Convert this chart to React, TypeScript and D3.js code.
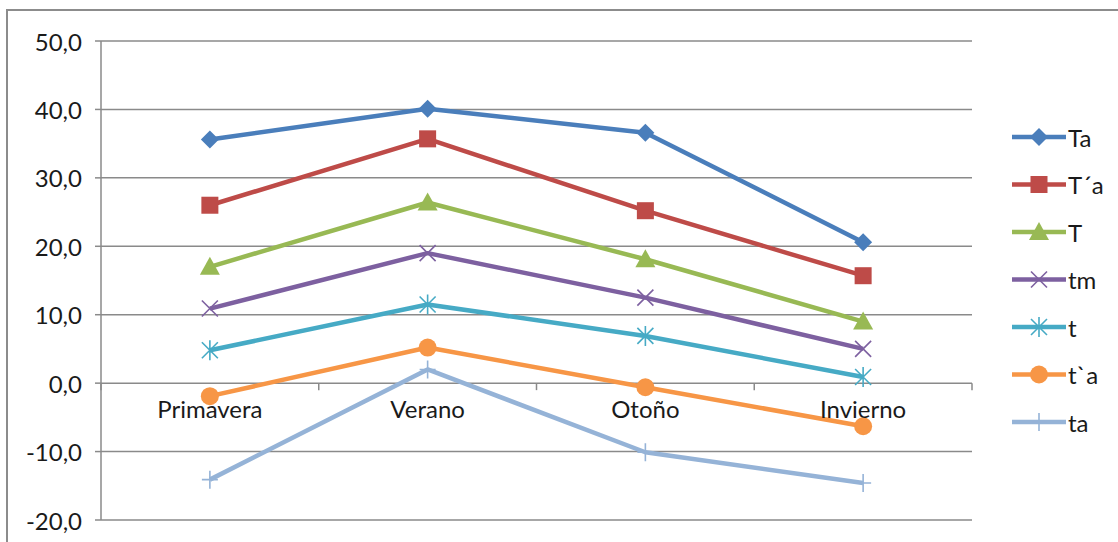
import React from "react";
import * as d3 from "d3";

// Seasons on the category axis
const seasons = ["Primavera", "Verano", "Otoño", "Invierno"];

// Series values per season (°C)
const Ta = [35.6, 40.1, 36.6, 20.6];
const TPrimeA = [26.0, 35.7, 25.2, 15.7];
const T = [17.0, 26.4, 18.1, 9.0];
const tm = [10.9, 19.0, 12.5, 5.0];
const t = [4.8, 11.5, 6.9, 0.9];
const tGraveA = [-1.9, 5.2, -0.6, -6.3];
const ta = [-14.1, 2.0, -10.1, -14.6];

// Value axis ticks
const yTicks = [50, 40, 30, 20, 10, 0, -10, -20];

type Marker = "diamond" | "square" | "triangle" | "x" | "star" | "circle" | "plus";

const series: { name: string; values: number[]; color: string; marker: Marker; width: number }[] = [
  { name: "Ta", values: Ta, color: "#4A7EBB", marker: "diamond", width: 4.5 },
  { name: "T´a", values: TPrimeA, color: "#BE4B48", marker: "square", width: 4.5 },
  { name: "T", values: T, color: "#98B954", marker: "triangle", width: 4.5 },
  { name: "tm", values: tm, color: "#7D60A0", marker: "x", width: 4.5 },
  { name: "t", values: t, color: "#46AAC5", marker: "star", width: 4.5 },
  { name: "t`a", values: tGraveA, color: "#F79646", marker: "circle", width: 4.5 },
  { name: "ta", values: ta, color: "#95B3D7", marker: "plus", width: 4.5 },
];

const W = 1118;
const H = 542;
const plot = { left: 101, right: 972, top: 41, bottom: 520 };
const FONT = "Lato, 'Open Sans', sans-serif";
const TEXT = "#1a1a1a";

// Excel-style number label: one decimal, comma separator, plain hyphen for negatives
const fmt = (v: number) => d3.format(".1f")(v).replace(".", ",").replace("\u2212", "-");

function MarkerShape({ kind, color }: { kind: Marker; color: string }) {
  switch (kind) {
    case "diamond":
      return <path d="M0,-9L9,0L0,9L-9,0Z" fill={color} />;
    case "square":
      return <rect x={-8.5} y={-8.5} width={17} height={17} fill={color} />;
    case "triangle":
      return <path d="M0,-10L10,8L-10,8Z" fill={color} />;
    case "x":
      return <path d="M-8,-8L8,8M-8,8L8,-8" stroke={color} strokeWidth={1.6} fill="none" />;
    case "star":
      return (
        <path d="M-8,-8L8,8M-8,8L8,-8M0,-10L0,10" stroke={color} strokeWidth={1.6} fill="none" />
      );
    case "circle":
      return <circle r={9} fill={color} />;
    case "plus":
      return <path d="M0,-9L0,9M-8,0L8,0" stroke={color} strokeWidth={1.6} fill="none" />;
  }
}

export default function App() {
  const x = d3.scaleBand<string>().domain(seasons).range([plot.left, plot.right]);
  const y = d3.scaleLinear().domain([-20, 50]).range([plot.bottom, plot.top]);
  const cx = (s: string) => (x(s) ?? 0) + x.bandwidth() / 2;

  const line = d3
    .line<[string, number]>()
    .x((d) => cx(d[0]))
    .y((d) => y(d[1]));

  const bandEdges = [...seasons.map((s) => x(s) ?? 0), plot.right];
  const legendX = 1012;
  const legendY0 = 137;
  const legendStep = 47.5;

  return (
    <svg
      width={W}
      height={H}
      style={{ position: "absolute", left: 0, top: 0, background: "#fff" }}
      fontFamily={FONT}
    >
      {/* chart frame */}
      <rect x={7} y={10} width={W + 20} height={H + 20} fill="#fff" stroke="#8c8c8c" strokeWidth={2} />

      {/* horizontal gridlines + value axis ticks/labels */}
      {yTicks.map((v) => (
        <g key={v}>
          <line x1={plot.left} x2={plot.right} y1={y(v)} y2={y(v)} stroke="#8a8a8a" strokeWidth={1.5} />
          <line x1={95} x2={plot.left} y1={y(v)} y2={y(v)} stroke="#8a8a8a" strokeWidth={1.5} />
          <text
            x={82}
            y={y(v)}
            textAnchor="end"
            dominantBaseline="central"
            fontSize={24}
            fill={TEXT}
          >
            {fmt(v)}
          </text>
        </g>
      ))}
      {/* value axis line */}
      <line x1={plot.left} x2={plot.left} y1={plot.top} y2={plot.bottom} stroke="#8a8a8a" strokeWidth={1.5} />

      {/* category axis ticks on the zero line */}
      {bandEdges.map((e, i) => (
        <line key={i} x1={e} x2={e} y1={y(0)} y2={y(0) + 7} stroke="#8a8a8a" strokeWidth={1.5} />
      ))}

      {/* series */}
      {series.map((s) => {
        const pts = seasons.map((c, i) => [c, s.values[i]] as [string, number]);
        return (
          <g key={s.name}>
            <path d={line(pts) ?? ""} fill="none" stroke={s.color} strokeWidth={s.width} strokeLinejoin="round" />
            {pts.map((p) => (
              <g key={p[0]} transform={`translate(${cx(p[0])},${y(p[1])})`}>
                <MarkerShape kind={s.marker} color={s.color} />
              </g>
            ))}
          </g>
        );
      })}

      {/* category labels */}
      {seasons.map((s) => (
        <text key={s} x={cx(s)} y={y(0) + 35} textAnchor="middle" fontSize={24} fill={TEXT}>
          {s}
        </text>
      ))}

      {/* legend */}
      {series.map((s, i) => {
        const ly = legendY0 + i * legendStep;
        return (
          <g key={s.name}>
            <line x1={legendX} x2={legendX + 54} y1={ly} y2={ly} stroke={s.color} strokeWidth={s.width} />
            <g transform={`translate(${legendX + 27},${ly})`}>
              <MarkerShape kind={s.marker} color={s.color} />
            </g>
            <text x={legendX + 56} y={ly} dominantBaseline="central" fontSize={24} fill={TEXT}>
              {s.name}
            </text>
          </g>
        );
      })}
    </svg>
  );
}
